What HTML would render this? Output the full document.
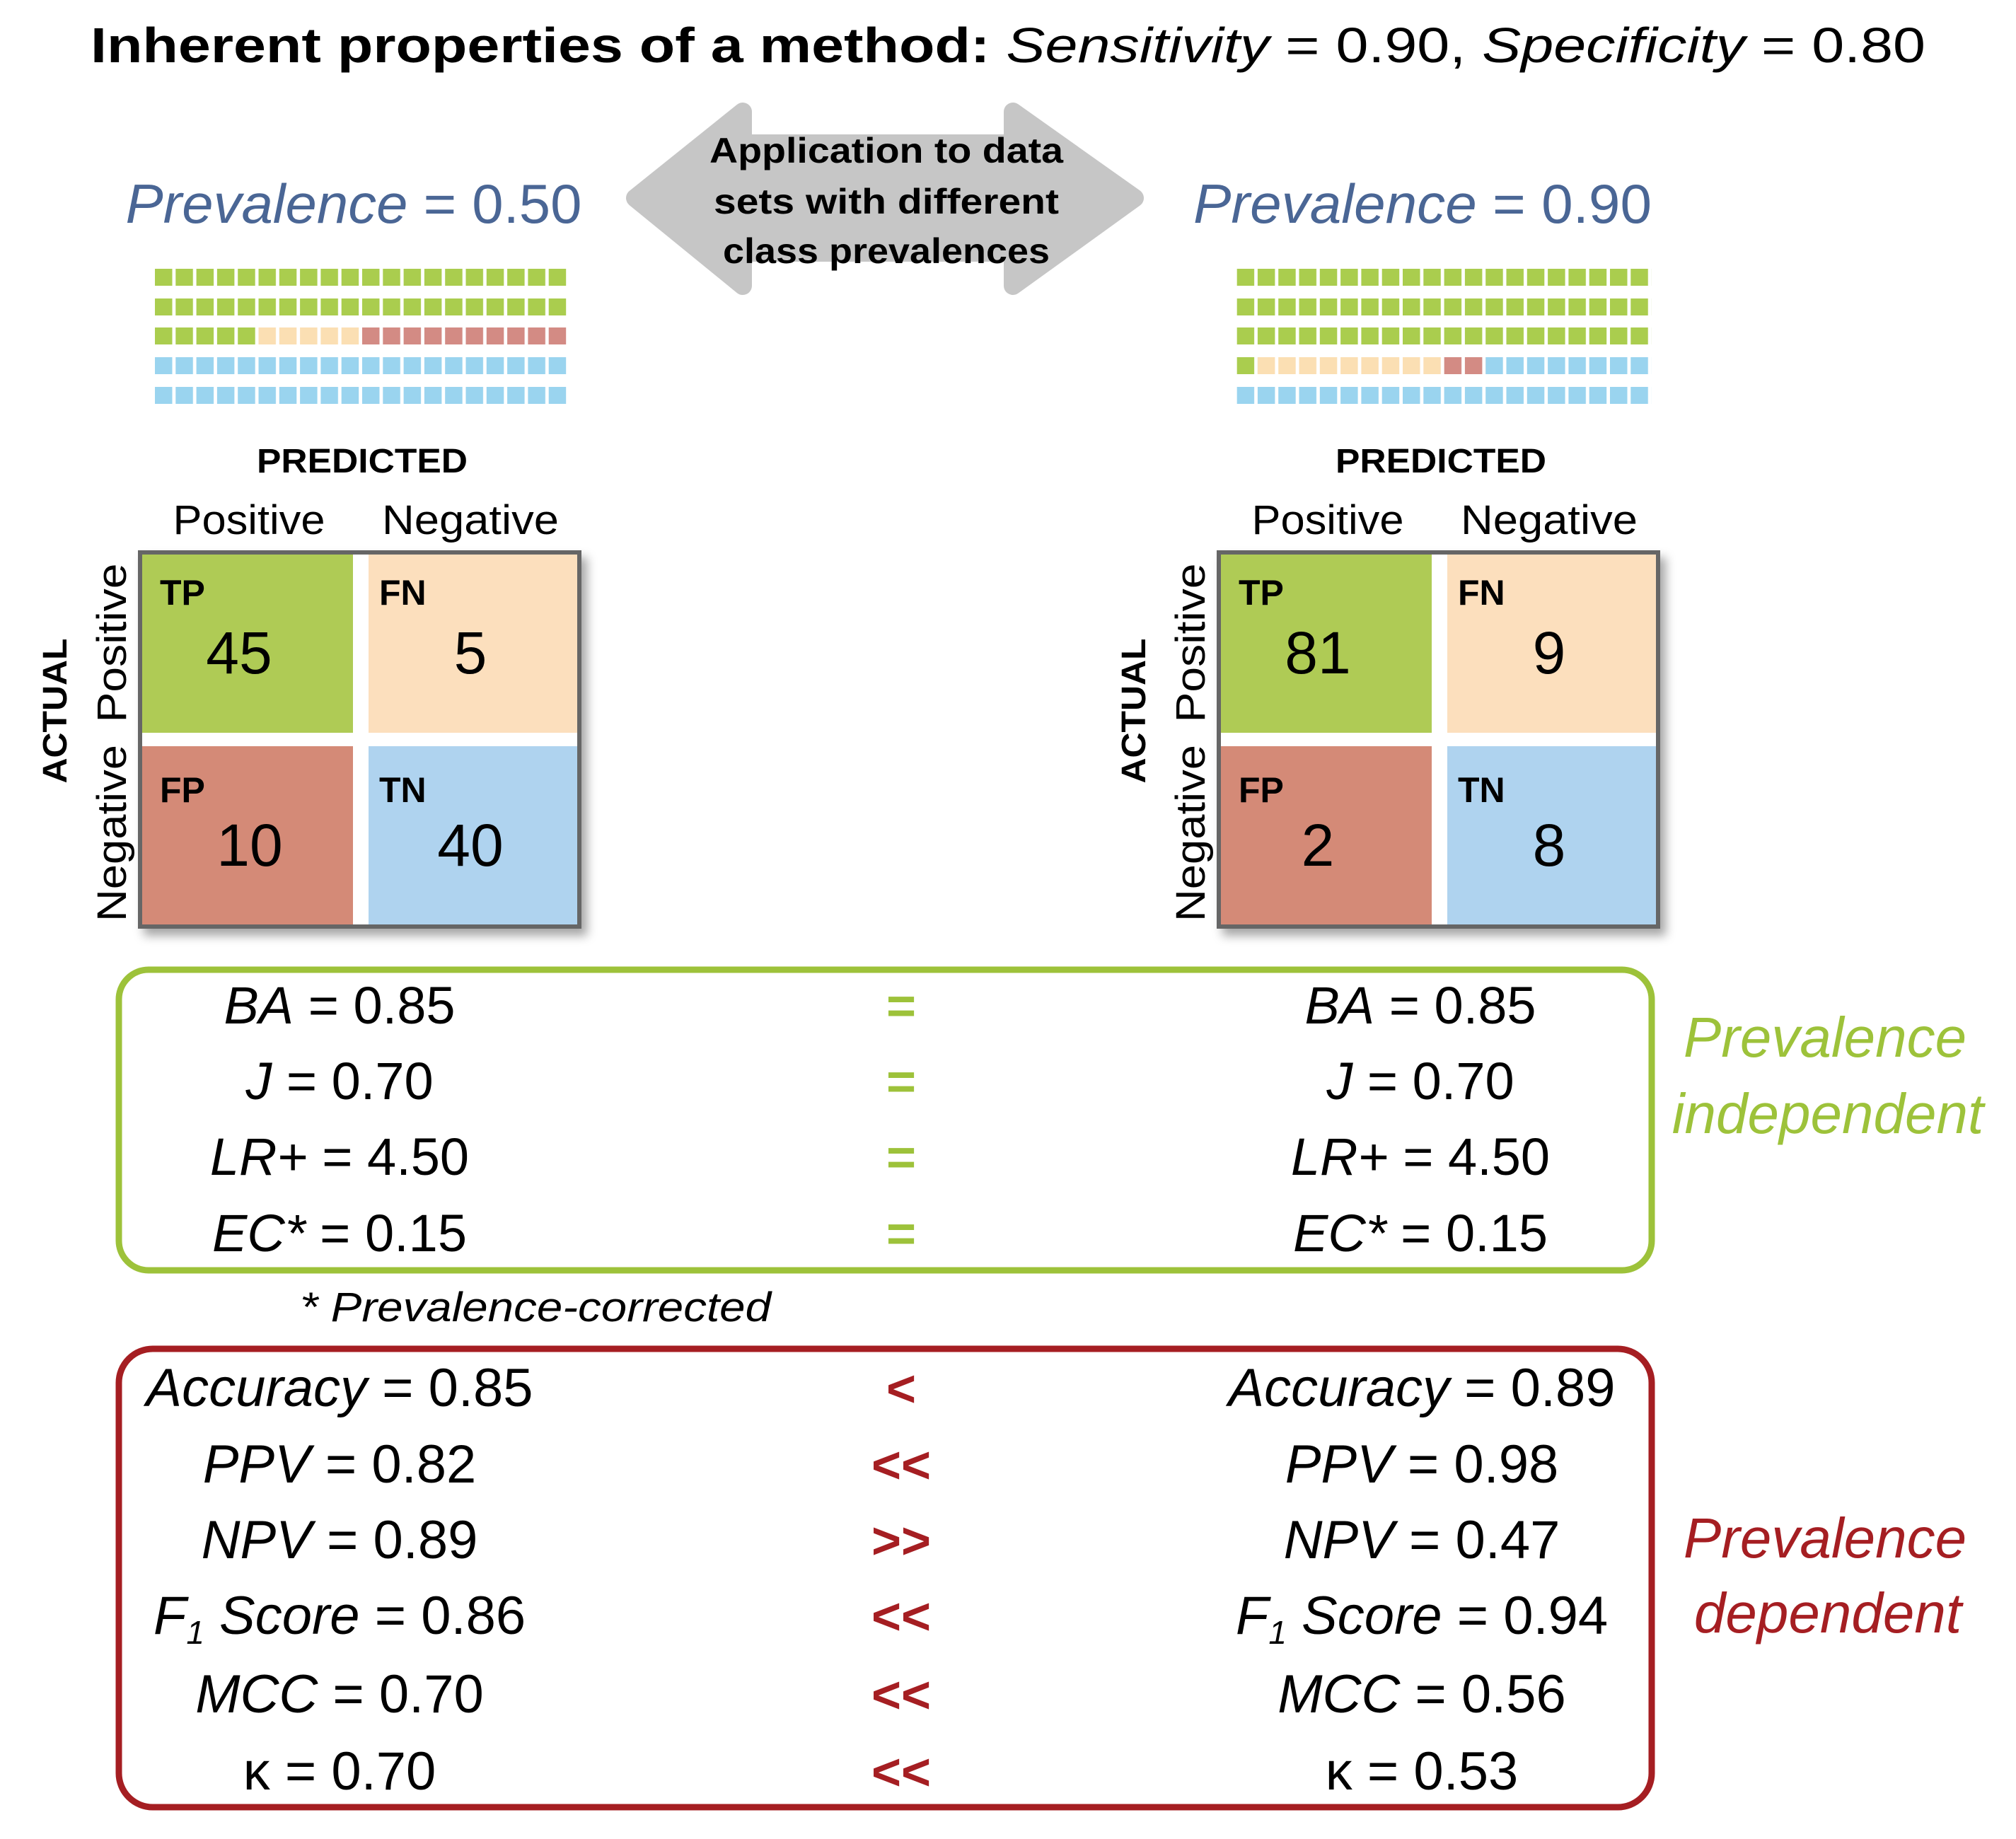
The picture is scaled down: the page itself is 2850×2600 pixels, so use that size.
<!DOCTYPE html>
<html><head><meta charset="utf-8"><style>
html,body{margin:0;padding:0;background:#fff}
svg{display:block}
text{font-family:"Liberation Sans",sans-serif}
</style></head><body>
<svg width="2850" height="2600" viewBox="0 0 2850 2600" xmlns="http://www.w3.org/2000/svg">
<defs>
<pattern id="pg" x="219" y="0" width="29.3" height="2600" patternUnits="userSpaceOnUse"><rect width="24.5" height="2600" fill="#aacd4e"/></pattern>
<pattern id="pp" x="219" y="0" width="29.3" height="2600" patternUnits="userSpaceOnUse"><rect width="24.5" height="2600" fill="#fbdfb3"/></pattern>
<pattern id="pr" x="219" y="0" width="29.3" height="2600" patternUnits="userSpaceOnUse"><rect width="24.5" height="2600" fill="#d38b84"/></pattern>
<pattern id="pb" x="219" y="0" width="29.3" height="2600" patternUnits="userSpaceOnUse"><rect width="24.5" height="2600" fill="#9ad4ef"/></pattern>
<filter id="sh" x="-10%" y="-10%" width="130%" height="130%"><feDropShadow dx="8" dy="10" stdDeviation="7" flood-color="#000" flood-opacity="0.35"/></filter>
</defs>

<!-- Title -->
<text x="128" y="88" font-size="70" textLength="2594" lengthAdjust="spacingAndGlyphs"><tspan font-weight="bold">Inherent properties of a method:</tspan> <tspan font-style="italic">Sensitivity</tspan> = 0.90, <tspan font-style="italic">Specificity</tspan> = 0.80</text>

<!-- Arrow -->
<polygon points="898,280 1050,158 1050,203 1432,203 1432,158 1604,280 1432,404 1432,357 1050,357 1050,404" fill="#c6c6c6" stroke="#c6c6c6" stroke-width="26" stroke-linejoin="round"/>
<g font-size="50" font-weight="bold" text-anchor="middle" fill="#000">
<text x="1253" y="230" textLength="500" lengthAdjust="spacingAndGlyphs">Application to data</text>
<text x="1253" y="302" textLength="488" lengthAdjust="spacingAndGlyphs">sets with different</text>
<text x="1253" y="372" textLength="462" lengthAdjust="spacingAndGlyphs">class prevalences</text>
</g>

<!-- Prevalence headings -->
<g font-size="78" fill="#4a6695" text-anchor="middle">
<text x="500" y="315" textLength="645" lengthAdjust="spacingAndGlyphs"><tspan font-style="italic">Prevalence</tspan> = 0.50</text>
<text x="2011" y="315" textLength="648" lengthAdjust="spacingAndGlyphs"><tspan font-style="italic">Prevalence</tspan> = 0.90</text>
</g>

<!-- Left grid -->
<rect x="219" y="380" width="586" height="24" fill="url(#pg)"/>
<rect x="219" y="422" width="586" height="24" fill="url(#pg)"/>
<rect x="219" y="463" width="146.5" height="24" fill="url(#pg)"/>
<rect x="365.5" y="463" width="146.5" height="24" fill="url(#pp)"/>
<rect x="512" y="463" width="293" height="24" fill="url(#pr)"/>
<rect x="219" y="505" width="586" height="24" fill="url(#pb)"/>
<rect x="219" y="547" width="586" height="24" fill="url(#pb)"/>
<!-- Right grid -->
<g transform="translate(6,0)">
<rect x="1742.6" y="380" width="586" height="24" fill="url(#pg)"/>
<rect x="1742.6" y="422" width="586" height="24" fill="url(#pg)"/>
<rect x="1742.6" y="463" width="586" height="24" fill="url(#pg)"/>
<rect x="1742.6" y="505" width="29.3" height="24" fill="url(#pg)"/>
<rect x="1771.9" y="505" width="263.7" height="24" fill="url(#pp)"/>
<rect x="2035.6" y="505" width="58.6" height="24" fill="url(#pr)"/>
<rect x="2094.2" y="505" width="234.4" height="24" fill="url(#pb)"/>
<rect x="1742.6" y="547" width="586" height="24" fill="url(#pb)"/>
</g>

<!-- Matrices -->
<g id="mL">
<text x="512" y="668" font-size="48" font-weight="bold" text-anchor="middle" textLength="298" lengthAdjust="spacingAndGlyphs">PREDICTED</text>
<text x="352" y="755" font-size="58" text-anchor="middle" textLength="215" lengthAdjust="spacingAndGlyphs">Positive</text>
<text x="665" y="755" font-size="58" text-anchor="middle" textLength="250" lengthAdjust="spacingAndGlyphs">Negative</text>
<text transform="translate(94,1005) rotate(-90)" font-size="48" font-weight="bold" text-anchor="middle" textLength="205" lengthAdjust="spacingAndGlyphs">ACTUAL</text>
<text transform="translate(178,909) rotate(-90)" font-size="58" text-anchor="middle" textLength="225" lengthAdjust="spacingAndGlyphs">Positive</text>
<text transform="translate(178,1178) rotate(-90)" font-size="58" text-anchor="middle" textLength="250" lengthAdjust="spacingAndGlyphs">Negative</text>
<rect x="198" y="781" width="621" height="529" fill="#fff" stroke="#666" stroke-width="6" filter="url(#sh)"/>
<rect x="201" y="784" width="298" height="252" fill="#afcb55"/>
<rect x="521" y="784" width="295" height="252" fill="#fcdfbd"/>
<rect x="201" y="1055" width="298" height="252" fill="#d48a77"/>
<rect x="521" y="1055" width="295" height="252" fill="#afd3ef"/>
<g font-size="50" font-weight="bold">
<text x="226" y="855">TP</text><text x="536" y="855">FN</text>
<text x="226" y="1134">FP</text><text x="536" y="1134">TN</text>
</g>
<g font-size="84" text-anchor="middle">
<text x="338" y="952">45</text><text x="665" y="952">5</text>
<text x="353" y="1224">10</text><text x="665" y="1224">40</text>
</g>
</g>
<g transform="translate(1525,0)">
<text x="512" y="668" font-size="48" font-weight="bold" text-anchor="middle" textLength="298" lengthAdjust="spacingAndGlyphs">PREDICTED</text>
<text x="352" y="755" font-size="58" text-anchor="middle" textLength="215" lengthAdjust="spacingAndGlyphs">Positive</text>
<text x="665" y="755" font-size="58" text-anchor="middle" textLength="250" lengthAdjust="spacingAndGlyphs">Negative</text>
<text transform="translate(94,1005) rotate(-90)" font-size="48" font-weight="bold" text-anchor="middle" textLength="205" lengthAdjust="spacingAndGlyphs">ACTUAL</text>
<text transform="translate(178,909) rotate(-90)" font-size="58" text-anchor="middle" textLength="225" lengthAdjust="spacingAndGlyphs">Positive</text>
<text transform="translate(178,1178) rotate(-90)" font-size="58" text-anchor="middle" textLength="250" lengthAdjust="spacingAndGlyphs">Negative</text>
<rect x="198" y="781" width="621" height="529" fill="#fff" stroke="#666" stroke-width="6" filter="url(#sh)"/>
<rect x="201" y="784" width="298" height="252" fill="#afcb55"/>
<rect x="521" y="784" width="295" height="252" fill="#fcdfbd"/>
<rect x="201" y="1055" width="298" height="252" fill="#d48a77"/>
<rect x="521" y="1055" width="295" height="252" fill="#afd3ef"/>
<g font-size="50" font-weight="bold">
<text x="226" y="855">TP</text><text x="536" y="855">FN</text>
<text x="226" y="1134">FP</text><text x="536" y="1134">TN</text>
</g>
<g font-size="84" text-anchor="middle">
<text x="338" y="952">81</text><text x="665" y="952">9</text>
<text x="338" y="1224">2</text><text x="665" y="1224">8</text>
</g>
</g>

<!-- Green box -->
<rect x="168" y="1371" width="2167" height="425" rx="42" ry="42" fill="none" stroke="#9dc23a" stroke-width="9"/>
<g font-size="74" text-anchor="middle">
<text x="480" y="1447"><tspan font-style="italic">BA</tspan> = 0.85</text>
<text x="480" y="1554"><tspan font-style="italic">J</tspan> = 0.70</text>
<text x="480" y="1661"><tspan font-style="italic">LR+</tspan> = 4.50</text>
<text x="480" y="1769"><tspan font-style="italic">EC*</tspan> = 0.15</text>
<text x="2008" y="1447"><tspan font-style="italic">BA</tspan> = 0.85</text>
<text x="2008" y="1554"><tspan font-style="italic">J</tspan> = 0.70</text>
<text x="2008" y="1661"><tspan font-style="italic">LR+</tspan> = 4.50</text>
<text x="2008" y="1769"><tspan font-style="italic">EC*</tspan> = 0.15</text>
</g>
<g font-size="72" font-weight="bold" fill="#9dc23a" text-anchor="middle">
<text x="1274" y="1447">=</text><text x="1274" y="1554">=</text><text x="1274" y="1661">=</text><text x="1274" y="1769">=</text>
</g>
<g font-size="80" font-style="italic" fill="#9dc23a" text-anchor="middle">
<text x="2580" y="1494">Prevalence</text>
<text x="2584" y="1602">independent</text>
</g>
<text x="424" y="1868" font-size="58" font-style="italic" textLength="666" lengthAdjust="spacingAndGlyphs">*  Prevalence-corrected</text>

<!-- Red box -->
<rect x="168" y="1907" width="2167" height="648" rx="48" ry="48" fill="none" stroke="#a51e22" stroke-width="9"/>
<g font-size="76" text-anchor="middle">
<text x="480" y="1988"><tspan font-style="italic">Accuracy</tspan> = 0.85</text>
<text x="480" y="2096"><tspan font-style="italic">PPV</tspan> = 0.82</text>
<text x="480" y="2203"><tspan font-style="italic">NPV</tspan> = 0.89</text>
<text x="480" y="2310"><tspan font-style="italic">F<tspan font-size="46" dy="14">1</tspan><tspan dy="-14"> Score</tspan></tspan> = 0.86</text>
<text x="480" y="2421"><tspan font-style="italic">MCC</tspan> = 0.70</text>
<text x="480" y="2530">κ = 0.70</text>
<text x="2010" y="1988"><tspan font-style="italic">Accuracy</tspan> = 0.89</text>
<text x="2010" y="2096"><tspan font-style="italic">PPV</tspan> = 0.98</text>
<text x="2010" y="2203"><tspan font-style="italic">NPV</tspan> = 0.47</text>
<text x="2010" y="2310"><tspan font-style="italic">F<tspan font-size="46" dy="14">1</tspan><tspan dy="-14"> Score</tspan></tspan> = 0.94</text>
<text x="2010" y="2421"><tspan font-style="italic">MCC</tspan> = 0.56</text>
<text x="2010" y="2530">κ = 0.53</text>
</g>
<g font-size="72" font-weight="bold" fill="#a51e22" text-anchor="middle">
<text x="1274" y="1988">&lt;</text>
<text x="1274" y="2096">&lt;&lt;</text>
<text x="1274" y="2203">&gt;&gt;</text>
<text x="1274" y="2310">&lt;&lt;</text>
<text x="1274" y="2421">&lt;&lt;</text>
<text x="1274" y="2530">&lt;&lt;</text>
</g>
<g font-size="80" font-style="italic" fill="#a51e22" text-anchor="middle">
<text x="2580" y="2202">Prevalence</text>
<text x="2584" y="2308">dependent</text>
</g>
</svg>
</body></html>
